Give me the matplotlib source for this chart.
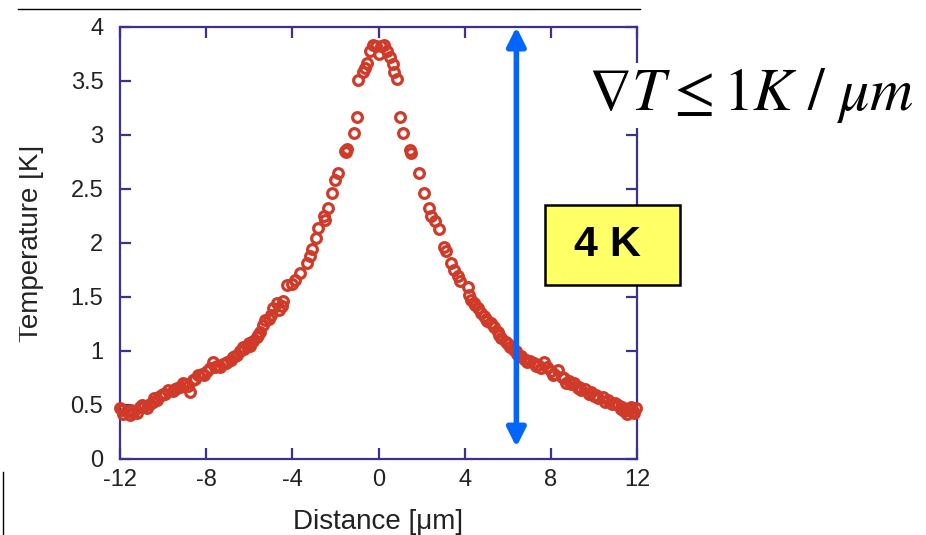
import matplotlib
matplotlib.use("Agg")
import matplotlib.pyplot as plt
from matplotlib.patches import Rectangle, FancyArrowPatch
from matplotlib.lines import Line2D

plt.rcParams['font.family'] = ['Liberation Sans', 'DejaVu Sans']
plt.rcParams['mathtext.fontset'] = 'stix'

dist_left = [-12.0, -11.85, -11.69, -11.55, -11.4, -11.2, -11.07, -10.9, -10.76, -10.6,
             -10.47, -10.3, -10.14, -9.9, -9.77, -9.55, -9.36, -9.2, -9.07, -8.85,
             -8.74, -8.5, -8.37, -8.1, -7.97, -7.8, -7.67, -7.5, -7.35, -7.2,
             -7.04, -6.85, -6.65, -6.55, -6.42, -6.25, -6.11, -5.95, -5.81, -5.65,
             -5.49, -5.35, -5.26, -5.0, -4.88, -4.71, -4.5, -4.42, -4.25, -4.0,
             -3.86, -3.63, -3.32, -3.2, -3.07, -2.9, -2.79, -2.55, -2.47, -2.33,
             -2.14, -2.0, -1.86, -1.55, -1.49, -1.45, -1.16, -1.02, -0.93, -0.7,
             -0.62, -0.53,
             -11.9, -11.5, -11.0, -10.4, -10.0, -9.45, -9.0, -8.6, -8.2, -7.6,
             -7.1, -6.75, -6.3, -6.0, -5.6, -5.1, -4.6]
temp_left = [0.47, 0.42, 0.44, 0.41, 0.43, 0.43, 0.48, 0.49, 0.47, 0.51,
             0.53, 0.55, 0.58, 0.60, 0.64, 0.63, 0.66, 0.67, 0.70, 0.68,
             0.62, 0.74, 0.78, 0.78, 0.81, 0.84, 0.90, 0.86, 0.85, 0.88,
             0.90, 0.92, 0.95, 0.96, 1.00, 1.02, 1.05, 1.05, 1.09, 1.13,
             1.18, 1.24, 1.29, 1.33, 1.40, 1.44, 1.42, 1.46, 1.61, 1.62,
             1.66, 1.72, 1.81, 1.88, 1.94, 2.05, 2.14, 2.25, 2.21, 2.32,
             2.46, 2.58, 2.65, 2.85, 2.84, 2.87, 3.02, 3.17, 3.51, 3.58,
             3.62, 3.67,
             0.45, 0.45, 0.50, 0.56, 0.60, 0.65, 0.69, 0.73, 0.79, 0.85,
             0.89, 0.94, 1.04, 1.07, 1.15, 1.30, 1.38]

dist_peak = [-0.4, -0.25, -0.1, 0.0, 0.1, 0.25, 0.4]
temp_peak = [3.78, 3.83, 3.82, 3.75, 3.82, 3.83, 3.78]

dist_right = [0.55, 0.65, 0.72, 0.85, 0.98, 1.16, 1.45, 1.5, 1.86, 2.09,
              2.33, 2.45, 2.6, 2.79, 3.05, 3.12, 3.35, 3.5, 3.67, 3.8,
              4.14, 4.3, 4.42, 4.6, 4.74, 4.88, 5.05, 5.21, 5.35, 5.53,
              5.7, 5.91, 6.1, 6.28, 6.45, 6.6, 6.74, 6.9, 7.05, 7.21,
              7.4, 7.67, 7.8, 8.0, 8.15, 8.33, 8.5, 8.7, 8.85, 9.07,
              9.25, 9.4, 9.6, 9.86, 10.0, 10.19, 10.4, 10.65, 10.85, 11.12,
              11.25, 11.4, 11.55, 11.72, 11.85, 11.95,
              4.2, 4.5, 5.0, 5.6, 6.0, 6.4, 6.85, 7.3, 7.55, 8.1,
              8.6, 8.95, 9.3, 9.75, 10.1, 10.5, 11.0, 11.3, 11.6, 11.8]
temp_right = [3.72, 3.66, 3.58, 3.52, 3.17, 3.02, 2.86, 2.83, 2.65, 2.46,
              2.32, 2.25, 2.20, 2.13, 1.96, 1.93, 1.81, 1.75, 1.69, 1.65,
              1.59, 1.47, 1.44, 1.40, 1.35, 1.32, 1.28, 1.26, 1.22, 1.18,
              1.12, 1.08, 1.04, 1.01, 0.97, 0.95, 0.93, 0.90, 0.91, 0.89,
              0.87, 0.90, 0.85, 0.81, 0.79, 0.82, 0.76, 0.70, 0.72, 0.70,
              0.66, 0.64, 0.65, 0.62, 0.58, 0.56, 0.57, 0.55, 0.51, 0.50,
              0.46, 0.44, 0.42, 0.48, 0.43, 0.47,
              1.52, 1.43, 1.30, 1.15, 1.06, 1.00, 0.92, 0.86, 0.84, 0.78,
              0.75, 0.69, 0.67, 0.60, 0.59, 0.53, 0.52, 0.48, 0.45, 0.44]

dist = dist_left + dist_peak + dist_right
temp = temp_left + temp_peak + temp_right

x_ticks = [-12, -8, -4, 0, 4, 8, 12]
y_ticks = [0, 0.5, 1, 1.5, 2, 2.5, 3, 3.5, 4]
arrow_x = 6.4
arrow_y = (0.11, 4.0)

spine_col = '#3b3191'
red = '#d03a28'

fig = plt.figure(figsize=(9.26, 5.35), dpi=100)
ax = fig.add_axes([0.1296, 0.1421, 0.5583, 0.8075])

ax.plot(dist, temp, 'o', mfc='none', mec=red, ms=7, mew=2.3, clip_on=False, zorder=3)

ax.set_xlim(-12, 12)
ax.set_ylim(0, 4)
ax.set_xticks(x_ticks)
ax.set_yticks(y_ticks)
ax.set_xticklabels([str(t) for t in x_ticks])
ax.set_yticklabels(['0', '0.5', '1', '1.5', '2', '2.5', '3', '3.5', '4'])
for s in ax.spines.values():
    s.set_color(spine_col)
    s.set_linewidth(1.6)
ax.tick_params(direction='in', length=8, width=1.6, color=spine_col,
               top=True, right=True, labelsize=17, labelcolor='#222222')
ax.tick_params(axis='x', pad=7)
ax.tick_params(axis='y', pad=12)

ax.set_xlabel('Distance [\u03bcm]', fontsize=20, color='#222222', labelpad=13)
ax.set_ylabel('Temperature [K]', fontsize=20, color='#222222')
ax.yaxis.set_label_coords(-0.147, 0.5)

# double headed blue arrow spanning the 4 K drop
arr = FancyArrowPatch((arrow_x, arrow_y[0]), (arrow_x, arrow_y[1]),
                      arrowstyle='<|-|>', mutation_scale=28, lw=4,
                      color='#0066ff', shrinkA=0, shrinkB=0, zorder=4, clip_on=False)
ax.add_patch(arr)

# gradient annotation
fig.text(0.811, 0.822, r'$\nabla T \leq 1K\ /\ \mu m$', fontsize=43, ha='center', va='center',
         bbox=dict(facecolor='white', edgecolor='none', pad=2), zorder=5)

# yellow label box
fig.patches.append(Rectangle((0.5886, 0.467), 0.1458, 0.1495, transform=fig.transFigure,
                             facecolor='#ffff66', edgecolor='black', lw=1.8, zorder=5))
fig.text(0.6555, 0.542, '4 K', fontsize=31, fontweight='bold', ha='center', va='center', zorder=6)

# page decorations: rule on top, edge at bottom left, white strip cutting the label top
fig.lines.append(Line2D([18 / 926, 640 / 926], [1 - 9 / 535, 1 - 9 / 535],
                        transform=fig.transFigure, color='black', lw=1))
fig.lines.append(Line2D([3 / 926, 3 / 926], [0, 1 - 472 / 535],
                        transform=fig.transFigure, color='black', lw=1))
fig.patches.append(Rectangle((0, 0.2), 19 / 926, 0.7, transform=fig.transFigure,
                             facecolor='white', edgecolor='none', zorder=7))

fig.savefig('out.png', dpi=100)
